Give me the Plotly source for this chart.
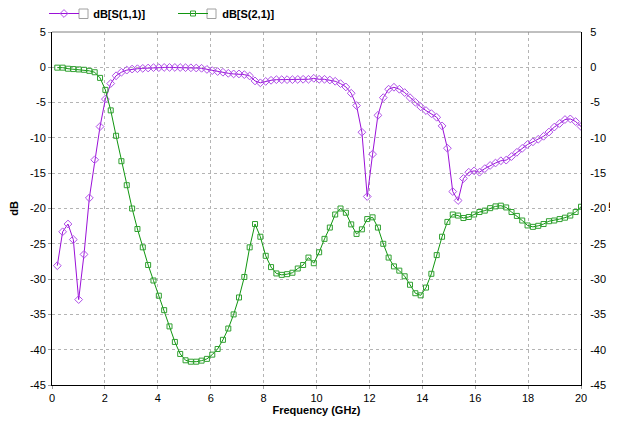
import plotly.graph_objects as go

# Frequency sweep (GHz): 99 points from 0.2 to 20
freq = [round(0.2 + k * 19.8 / 98, 4) for k in range(99)]

s11 = [-28.1, -23.3, -22.2, -24.4, -32.9, -26.5, -18.5, -13.1, -8.4, -4.5,
       -2.3, -1.2, -0.7, -0.4, -0.25, -0.2, -0.15, -0.1, -0.05, -0.05,
       -0.02, -0.02, -0.02, -0.03, -0.05, -0.07, -0.1, -0.14, -0.3, -0.47,
       -0.6, -0.7, -0.85, -0.94, -0.94, -1.04, -1.23, -1.93, -2.2, -2.0,
       -1.84, -1.75, -1.75, -1.75, -1.75, -1.72, -1.7, -1.7, -1.56, -1.7,
       -1.7, -1.8, -1.98, -2.31, -2.78, -3.68, -5.42, -9.2, -18.3, -12.3,
       -6.8, -4.3, -3.1, -2.83, -3.1, -3.58, -4.3, -4.95, -5.6, -6.13,
       -6.56, -7.08, -8.3, -11.46, -17.6, -18.87, -15.75, -14.86, -14.67, -14.86,
       -14.35, -13.9, -13.56, -13.24, -13.15, -12.64, -12.04, -11.48, -10.93, -10.56,
       -10.19, -9.77, -9.17, -8.47, -7.96, -7.4, -7.31, -7.69, -8.38]

s21 = [-0.05, -0.05, -0.2, -0.25, -0.3, -0.35, -0.5, -0.7, -1.5, -3.2,
       -6.1, -9.7, -13.3, -16.7, -20.0, -22.9, -25.5, -28.0, -30.2, -32.35,
       -34.4, -36.7, -38.9, -40.6, -41.5, -41.7, -41.7, -41.55, -41.3, -40.7,
       -39.9, -38.6, -37.0, -35.0, -32.6, -29.7, -25.5, -22.2, -24.0, -26.7,
       -28.3, -29.2, -29.4, -29.3, -29.1, -28.5, -28.0, -26.95, -27.75, -26.2,
       -24.3, -22.7, -20.85, -20.0, -20.6, -22.25, -23.6, -22.95, -21.5, -21.25,
       -22.7, -25.0, -26.95, -28.2, -28.8, -29.6, -30.8, -32.0, -32.3, -31.2,
       -29.25, -26.6, -24.0, -21.9, -20.85, -21.0, -21.35, -21.2, -20.85, -20.5,
       -20.3, -19.95, -19.7, -19.6, -19.85, -20.5, -21.05, -21.7, -22.4, -22.6,
       -22.45, -22.2, -21.8, -21.7, -21.5, -21.3, -21.0, -20.5, -19.75]

names = ["dB[S(1,1)]", "dB[S(2,1)]"]
x_ticks = [0, 2, 4, 6, 8, 10, 12, 14, 16, 18, 20]
y_ticks = [5, 0, -5, -10, -15, -20, -25, -30, -35, -40, -45]

FONT = "Liberation Sans Narrow, Liberation Sans, Arial, sans-serif"
NB = "\u00a0\u00a0\u00a0"

fig = go.Figure()
fig.add_trace(go.Scatter(
    x=freq, y=s11, mode="lines+markers", name=NB + "<b>" + names[0] + "</b>",
    line=dict(color="#9b10d8", width=1),
    marker=dict(symbol="diamond-open", size=6, color="#b050e8", line=dict(width=1)),
))
fig.add_trace(go.Scatter(
    x=freq, y=s21, mode="lines+markers", name=NB + "<b>" + names[1] + "</b>",
    line=dict(color="#10960f", width=1),
    marker=dict(symbol="square-open", size=5, color="#30a030", line=dict(width=1)),
))
# invisible trace to activate right-hand axis
fig.add_trace(go.Scatter(
    x=freq, y=s21, yaxis="y2", mode="lines", line=dict(width=0, color="rgba(0,0,0,0)"),
    showlegend=False, hoverinfo="skip",
))

# page has an 8px body margin: figure sits at (8, 8)
OFF = 8
W, H = 618 - OFF, 421 - OFF
ml, mt = 52 - OFF, 32 - OFF
pw, ph = 529, 353
mr, mb = W - ml - pw, H - mt - ph


def px_x(p):  # page pixel -> paper x
    return (p - 52) / pw


def px_y(p):  # page pixel -> paper y
    return (385 - p) / ph


axis_common = dict(
    showgrid=True, gridcolor="#b4b4b4", griddash="3px,3px", gridwidth=1,
    zeroline=False, showline=True, linecolor="#000000", linewidth=1,
    ticks="outside", ticklen=3, tickcolor="#a0a0a0", automargin=False,
    tickfont=dict(family=FONT, size=11, color="#000000"),
)

shapes = [
    dict(type="line", xref="paper", yref="paper", x0=0, x1=1, y0=1, y1=1,
         line=dict(color="#808080", width=1)),
    dict(type="rect", xref="paper", yref="paper",
         x0=px_x(79), x1=px_x(88), y0=px_y(18.5), y1=px_y(9),
         line=dict(color="#a0a0a0", width=1), fillcolor="#ffffff", layer="above"),
    dict(type="rect", xref="paper", yref="paper",
         x0=px_x(207), x1=px_x(216), y0=px_y(18.5), y1=px_y(9),
         line=dict(color="#a0a0a0", width=1), fillcolor="#ffffff", layer="above"),
]

annotations = [
    dict(text="<b>dB</b>", xref="paper", yref="paper", x=px_x(612), y=0.5,
         xanchor="center", yanchor="middle", textangle=-90, showarrow=False,
         font=dict(family=FONT, size=11, color="#000000")),
]

fig.update_layout(
    width=W, height=H,
    margin=dict(l=ml, r=mr, t=mt, b=mb, pad=0, autoexpand=False),
    paper_bgcolor="#ffffff", plot_bgcolor="#ffffff",
    font=dict(family=FONT, size=11, color="#000000"),
    showlegend=True,
    legend=dict(orientation="h", x=px_x(44), xanchor="left", y=px_y(-1), yanchor="top",
                entrywidth=84, entrywidthmode="pixels",
                font=dict(family="Liberation Sans, Arial, sans-serif", size=11, color="#000000"),
                bgcolor="rgba(0,0,0,0)", borderwidth=0, itemclick=False),
    xaxis=dict(range=[0, 20], tickvals=x_ticks, ticktext=[str(v) for v in x_ticks],
               title=dict(text="<b>Frequency (GHz)</b>", standoff=2,
                          font=dict(family=FONT, size=11)),
               **axis_common),
    yaxis=dict(range=[-45, 5], tickvals=y_ticks, ticktext=[str(v) for v in y_ticks],
               title=dict(text="<b>dB</b>", standoff=10, font=dict(family=FONT, size=11)),
               **axis_common),
    yaxis2=dict(range=[-45, 5], overlaying="y", side="right", anchor="x",
                tickvals=y_ticks, ticktext=[str(v) for v in y_ticks], automargin=False,
                showgrid=False, zeroline=False, showline=True, linecolor="#000000", linewidth=1,
                ticks="outside", ticklen=6, tickcolor="rgba(0,0,0,0)",
                tickfont=dict(family=FONT, size=11, color="#000000")),
    shapes=shapes,
    annotations=annotations,
)

fig.write_html("out.html")
